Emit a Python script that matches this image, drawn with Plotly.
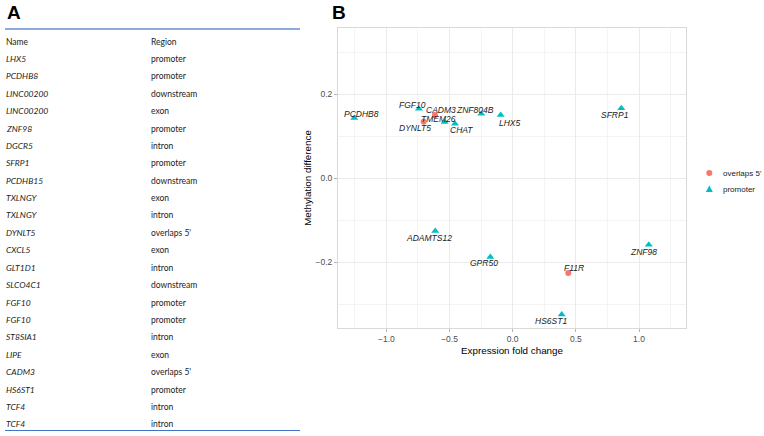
import plotly.graph_objects as go

# ---- Panel A table data ----
table_names = ["LHX5", "PCDHB8", "LINC00200", "LINC00200", "ZNF98", "DGCR5", "SFRP1",
               "PCDHB15", "TXLNGY", "TXLNGY", "DYNLT5", "CXCL5", "GLT1D1", "SLCO4C1",
               "FGF10", "FGF10", "ST8SIA1", "LIPE", "CADM3", "HS6ST1", "TCF4", "TCF4"]
table_regions = ["promoter", "promoter", "downstream", "exon", "promoter", "intron", "promoter",
                 "downstream", "exon", "intron", "overlaps 5'", "exon", "intron", "downstream",
                 "promoter", "promoter", "intron", "exon", "overlaps 5'", "promoter", "intron", "intron"]

# ---- Panel B scatter data ----
genes = ["PCDHB8", "FGF10", "CADM3", "DYNLT5", "TMEM26", "CHAT", "ZNF804B", "LHX5",
         "SFRP1", "ZNF98", "F11R", "ADAMTS12", "GPR50", "HS6ST1"]
fold_change = [-1.254, -0.742, -0.615, -0.705, -0.539, -0.457, -0.249, -0.095,
               0.860, 1.077, 0.440, -0.613, -0.177, 0.388]
meth_diff = [0.144, 0.166, 0.151, 0.135, 0.134, 0.130, 0.154, 0.151,
             0.167, -0.158, -0.225, -0.125, -0.187, -0.324]
region = ["promoter", "promoter", "overlaps 5'", "overlaps 5'", "promoter", "promoter", "promoter",
          "promoter", "promoter", "promoter", "overlaps 5'", "promoter", "promoter", "promoter"]
legend_labels = ["overlaps 5'", "promoter"]
# label offsets in pixels (x right, y up)
label_dx = [7, -6, 6, -9, -6, 7, -6, 9, -6, -5, 6, -6, -6, -11]
label_dy = [4, 4, 5, -6, 3, -6, 4, -8, -7, -7, 5, -7, -6, -6]

W, H = 764, 436
RED, TEAL = "#F8766D", "#00BFC4"
fig = go.Figure()

styles = {"overlaps 5'": dict(color=RED, symbol="circle", size=6),
          "promoter": dict(color=TEAL, symbol="triangle-up", size=7)}
for reg in legend_labels:
    xs = [x for x, r in zip(fold_change, region) if r == reg]
    ys = [y for y, r in zip(meth_diff, region) if r == reg]
    fig.add_trace(go.Scatter(x=xs, y=ys, mode="markers", name=reg, showlegend=False,
                             marker=dict(color=styles[reg]["color"], symbol=styles[reg]["symbol"],
                                         size=styles[reg]["size"], line=dict(width=0))))

annotations = []
for g, x, y, dx, dy in zip(genes, fold_change, meth_diff, label_dx, label_dy):
    annotations.append(dict(x=x, y=y, xref="x", yref="y", text="<i>" + g + "</i>",
                            showarrow=False, xshift=dx, yshift=dy,
                            font=dict(family="Liberation Sans", size=8.5, color="#222222")))

def px(x):
    return x / W

def py(y):
    return 1 - y / H

# Panel labels
for lab, xx in [("A", 5), ("B", 330)]:
    annotations.append(dict(x=px(xx), y=py(12), xref="paper", yref="paper", text="<b>" + lab + "</b>",
                            showarrow=False, xanchor="left", yanchor="middle",
                            font=dict(family="Liberation Sans", size=19, color="black")))

# Table
row0 = 41.5
step = 17.4
tfont = dict(family="Lato", size=8.5, color="#222222")
annotations.append(dict(x=px(4), y=py(row0), xref="paper", yref="paper", text="Name",
                        showarrow=False, xanchor="left", yanchor="middle", font=tfont))
annotations.append(dict(x=px(149), y=py(row0), xref="paper", yref="paper", text="Region",
                        showarrow=False, xanchor="left", yanchor="middle", font=tfont))
for i, (n, r) in enumerate(zip(table_names, table_regions)):
    yy = py(row0 + step * (i + 1))
    annotations.append(dict(x=px(4), y=yy, xref="paper", yref="paper", text="<i>" + n + "</i>",
                            showarrow=False, xanchor="left", yanchor="middle", font=tfont))
    annotations.append(dict(x=px(149), y=yy, xref="paper", yref="paper", text=r,
                            showarrow=False, xanchor="left", yanchor="middle", font=tfont))

shapes = [
    dict(type="line", xref="paper", yref="paper", x0=px(5), x1=px(300), y0=py(29), y1=py(29),
         line=dict(color="#8EA9DB", width=2)),
    dict(type="line", xref="paper", yref="paper", x0=px(5), x1=px(300), y0=py(430.5), y1=py(430.5),
         line=dict(color="#4472C4", width=1.2)),
]

# Manual legend
lx, ly0, lstep = 709.3, 173, 16
shapes.append(dict(type="circle", xref="paper", yref="paper", x0=px(lx - 3), x1=px(lx + 3),
                   y0=py(ly0 + 3), y1=py(ly0 - 3), fillcolor=RED, line=dict(width=0)))
ty = ly0 + lstep
shapes.append(dict(type="path", xref="paper", yref="paper",
                   path=f"M {px(lx - 3.5)} {py(ty + 3)} L {px(lx + 3.5)} {py(ty + 3)} L {px(lx)} {py(ty - 3.5)} Z",
                   fillcolor=TEAL, line=dict(width=0)))
for i, lab in enumerate(legend_labels):
    annotations.append(dict(x=px(721), y=py(ly0 + lstep * i), xref="paper", yref="paper", text=lab,
                            showarrow=False, xanchor="left", yanchor="middle",
                            font=dict(family="Liberation Sans", size=8, color="#222222")))

axis_common = dict(showgrid=True, gridcolor="#EBEBEB", gridwidth=1, zeroline=False,
                   showline=True, linecolor="#D9D9D9", linewidth=1, mirror=True,
                   ticks="outside", ticklen=3, tickcolor="#B3B3B3",
                   tickfont=dict(family="Liberation Sans", size=8.5, color="#4D4D4D"))

fig.update_layout(
    width=W, height=H, margin=dict(l=0, r=0, t=0, b=0, autoexpand=False),
    paper_bgcolor="white", plot_bgcolor="white",
    xaxis=dict(domain=[px(338), px(686)], range=[-1.383, 1.372], dtick=0.5, tick0=0,
               tickformat=".1f",
               minor=dict(showgrid=True, dtick=0.25, tick0=0, gridcolor="#F4F4F4", ticklen=0),
               title=dict(text="Expression fold change", standoff=3,
                          font=dict(family="Liberation Sans", size=9.8, color="black")),
               **axis_common),
    yaxis=dict(domain=[py(328), py(28)], range=[-0.356, 0.358], dtick=0.2, tick0=0,
               tickformat=".1f",
               minor=dict(showgrid=True, dtick=0.1, tick0=0, gridcolor="#F4F4F4", ticklen=0),
               title=dict(text="Methylation difference", standoff=2,
                          font=dict(family="Liberation Sans", size=9.8, color="black")),
               **axis_common),
    showlegend=False,
    annotations=annotations, shapes=shapes,
)

fig.write_html("out.html", config={"displayModeBar": False},
               post_script="document.body.style.margin='0';")
